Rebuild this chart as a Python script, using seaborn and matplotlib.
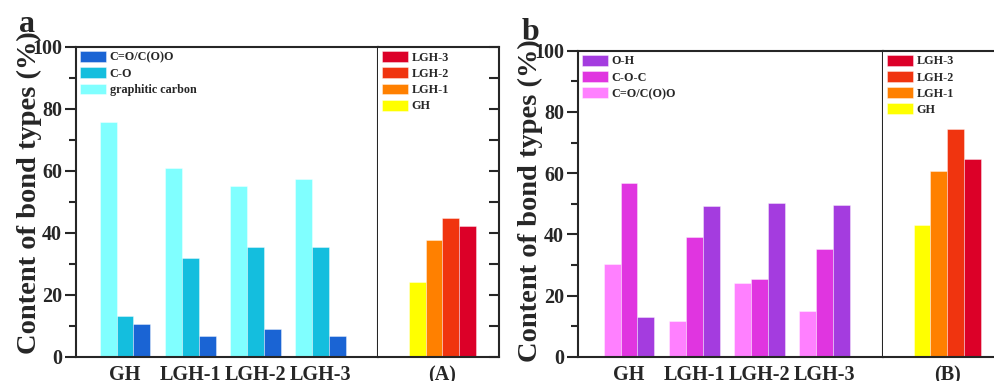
import pandas as pd
import matplotlib
matplotlib.use("Agg")
import matplotlib.pyplot as plt
from matplotlib.ticker import MultipleLocator
import seaborn as sns

# samples and bond types
samples = ["GH", "LGH-1", "LGH-2", "LGH-3"]
c1s_types = ["graphitic carbon", "C-O", "C=O/C(O)O"]
o1s_types = ["C=O/C(O)O", "C-O-C", "O-H"]

# panel a (C1s) values
graphitic_carbon = [75.7, 61.1, 55.2, 57.4]
c_o = [13.3, 31.8, 35.4, 35.5]
c_eq_o_a = [10.6, 6.9, 9.1, 6.7]
total_a = [24.2, 37.8, 44.7, 42.4]

# panel b (O1s) values
c_eq_o_b = [30.3, 11.6, 24.3, 15.0]
c_o_c = [56.8, 39.2, 25.5, 35.3]
o_h = [13.0, 49.2, 50.4, 49.6]
total_b = [43.0, 60.8, 74.5, 64.6]

c1s_colors = ["#80FFFF", "#14BEDE", "#1A64D4"]
o1s_colors = ["#FF80FF", "#E035E0", "#A43CDF"]
sample_colors = ["#FFFF00", "#FF8000", "#F0340F", "#DC0028"]

sns.set_style("ticks")
plt.rcParams["font.family"] = ["Liberation Serif", "DejaVu Serif"]
plt.rcParams["font.weight"] = "bold"
plt.rcParams["axes.labelweight"] = "bold"


def long_form(types, columns):
    rows = []
    for t, col in zip(types, columns):
        for s, v in zip(samples, col):
            rows.append({"sample": s, "type": t, "value": v})
    return pd.DataFrame(rows)


def total_form(label, values):
    return pd.DataFrame({"panel": [label] * len(samples), "sample": samples, "value": values})


dfa = long_form(c1s_types, [graphitic_carbon, c_o, c_eq_o_a])
dfb = long_form(o1s_types, [c_eq_o_b, c_o_c, o_h])
dfA = total_form("(A)", total_a)
dfB = total_form("(B)", total_b)

fig = plt.figure(figsize=(9.95, 3.81), dpi=100)
H = 381.0
W = 995.0


def box(x0, x1, ytop):
    return [x0 / W, (H - 357) / H, (x1 - x0) / W, (357 - ytop) / H]


ax_a = fig.add_axes(box(76, 378, 47))
ax_A = fig.add_axes(box(378, 499, 47))
ax_b = fig.add_axes(box(578, 883, 50.7))
ax_B = fig.add_axes(box(883, 1004, 50.7))

# thin light outline round each bar, full colour
bar_kw = dict(edgecolor=(1, 1, 1, 0.45), linewidth=0.6, saturation=1)


def legend(ax, fs=8.7):
    h, l = ax.get_legend_handles_labels()
    ax.legend(h[::-1], l[::-1], loc="upper left", frameon=False,
              handlelength=2.1, handleheight=1.0, handletextpad=0.35,
              labelspacing=0.3, borderaxespad=0.25, borderpad=0.1,
              prop={"weight": "bold", "size": fs})


def style_main(ax, xlim):
    ax.set_xlim(*xlim)
    ax.set_ylim(0, 100)
    ax.yaxis.set_major_locator(MultipleLocator(20))
    ax.yaxis.set_minor_locator(MultipleLocator(10))
    ax.tick_params(axis="y", which="major", direction="out", length=8, width=1.5,
                   labelsize=14.5, pad=2)
    ax.tick_params(axis="y", which="minor", direction="out", length=5, width=1.5)
    ax.tick_params(axis="x", length=0, labelsize=14.5, pad=6)
    for sp in ax.spines.values():
        sp.set_linewidth(1.5)
    ax.set_xlabel("")
    ax.set_ylabel("Content of bond types (%)", fontsize=20.5)


def style_sub(ax, xlim):
    ax.set_xlim(*xlim)
    ax.set_ylim(0, 100)
    ax.yaxis.set_major_locator(MultipleLocator(20))
    ax.yaxis.set_minor_locator(MultipleLocator(10))
    ax.yaxis.tick_right()
    ax.tick_params(axis="y", which="both", direction="in", length=7, width=1.5,
                   labelright=False, labelleft=False)
    ax.tick_params(axis="x", length=0, labelsize=14.5, pad=6)
    ax.spines["left"].set_visible(False)
    for sp in ax.spines.values():
        sp.set_linewidth(1.5)
    ax.set_xlabel("")
    ax.set_ylabel("")


# panel a
sns.barplot(data=dfa, x="sample", y="value", hue="type", hue_order=c1s_types,
            order=samples, palette=c1s_colors, width=0.78, ax=ax_a, **bar_kw)
style_main(ax_a, (-0.752, 3.882))
legend(ax_a)
ax_a.yaxis.set_label_coords(-0.112, 0.53)

sns.barplot(data=dfA, x="panel", y="value", hue="sample", hue_order=samples,
            palette=sample_colors, width=0.8, ax=ax_A, **bar_kw)
style_sub(ax_A, (-0.770, 0.675))
legend(ax_A)

# panel b
sns.barplot(data=dfb, x="sample", y="value", hue="type", hue_order=o1s_types,
            order=samples, palette=o1s_colors, width=0.78, ax=ax_b, **bar_kw)
style_main(ax_b, (-0.782, 3.894))
legend(ax_b)
ax_b.yaxis.set_label_coords(-0.115, 0.51)

sns.barplot(data=dfB, x="panel", y="value", hue="sample", hue_order=samples,
            palette=sample_colors, width=0.8, ax=ax_B, **bar_kw)
style_sub(ax_B, (-0.764, 0.680))
legend(ax_B)

fig.text(19 / W, 1 - 32 / H, "a", fontsize=23, fontweight="bold", va="baseline")
fig.text(522 / W, 1 - 40 / H, "b", fontsize=23, fontweight="bold", va="baseline")

fig.savefig("out.png", dpi=100)
